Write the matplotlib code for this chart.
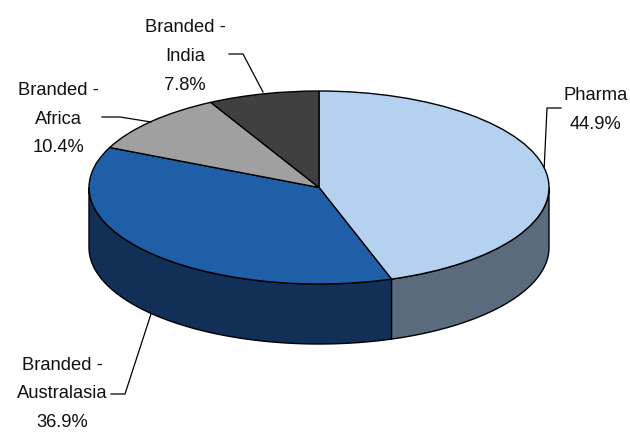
import numpy as np
import matplotlib
matplotlib.use("Agg")
import matplotlib.pyplot as plt

plt.rcParams['font.family'] = ['Liberation Sans', 'DejaVu Sans']

labels = ["Pharma\n44.9%", "Branded -\nAustralasia\n36.9%", "Branded -\nAfrica\n10.4%", "Branded -\nIndia\n7.8%"]
values = [44.9, 36.9, 10.4, 7.8]
top_colors = ["#B4D2F0", "#1F5FA8", "#A0A0A0", "#404040"]
side_colors = ["#5B6B7E", "#112F57", "#707070", "#2A2A2A"]

# label centres and leader lines, in image pixels
label_pos = [(596, 110), (62, 394), (58, 119), (185, 56.5)]
leaders = [
    [(561, 108), (547, 108), (544, 172)],
    [(111, 394), (125, 394), (151, 314)],
    [(102, 117), (120, 117), (151, 122)],
    [(229, 54), (243, 54), (263, 92)],
]

W, H = 630, 432
cx, cy = 319, 187.5   # pie centre
rx, ry = 230, 96.5    # top ellipse radii
depth = 60


def to_data(px, py):
    return (px - cx) / rx, (cy - py) / ry


fig = plt.figure(figsize=(W / 100, H / 100), dpi=100)
ax = fig.add_axes([0, 0, 1, 1])

# side wall, only the front half (below the centre line) can be seen
drop = depth / ry
angles = 90 - 3.6 * np.cumsum([0] + values)
for i in range(len(values)):
    start, end = angles[i], angles[i + 1]
    a = max(end, -180)
    b = min(start, 0)
    if a >= b:
        continue
    t = np.radians(np.linspace(b, a, 120))
    xs = np.cos(t)
    ys = np.sin(t)
    ax.fill(np.r_[xs, xs[::-1]], np.r_[ys, ys[::-1] - drop],
            facecolor=side_colors[i], edgecolor="black", linewidth=1, zorder=1)

# top of the pie
ax.pie(values, startangle=90, counterclock=False, colors=top_colors,
       wedgeprops={"edgecolor": "black", "linewidth": 1, "zorder": 2})

for pts in leaders:
    lx, ly = zip(*[to_data(*p) for p in pts])
    ax.plot(lx, ly, color="black", linewidth=0.9, zorder=3 if pts[0][0] < 500 else 0.5)

for lab, pos in zip(labels, label_pos):
    x, y = to_data(*pos)
    ax.text(x, y, lab, ha="center", va="center", fontsize=13.2, color="#111111",
            linespacing=1.92, zorder=4)

ax.set_aspect("auto")
ax.set_xlim(-cx / rx, (W - cx) / rx)
ax.set_ylim((cy - H) / ry, cy / ry)
ax.axis("off")

fig.savefig("out.png", dpi=100)
